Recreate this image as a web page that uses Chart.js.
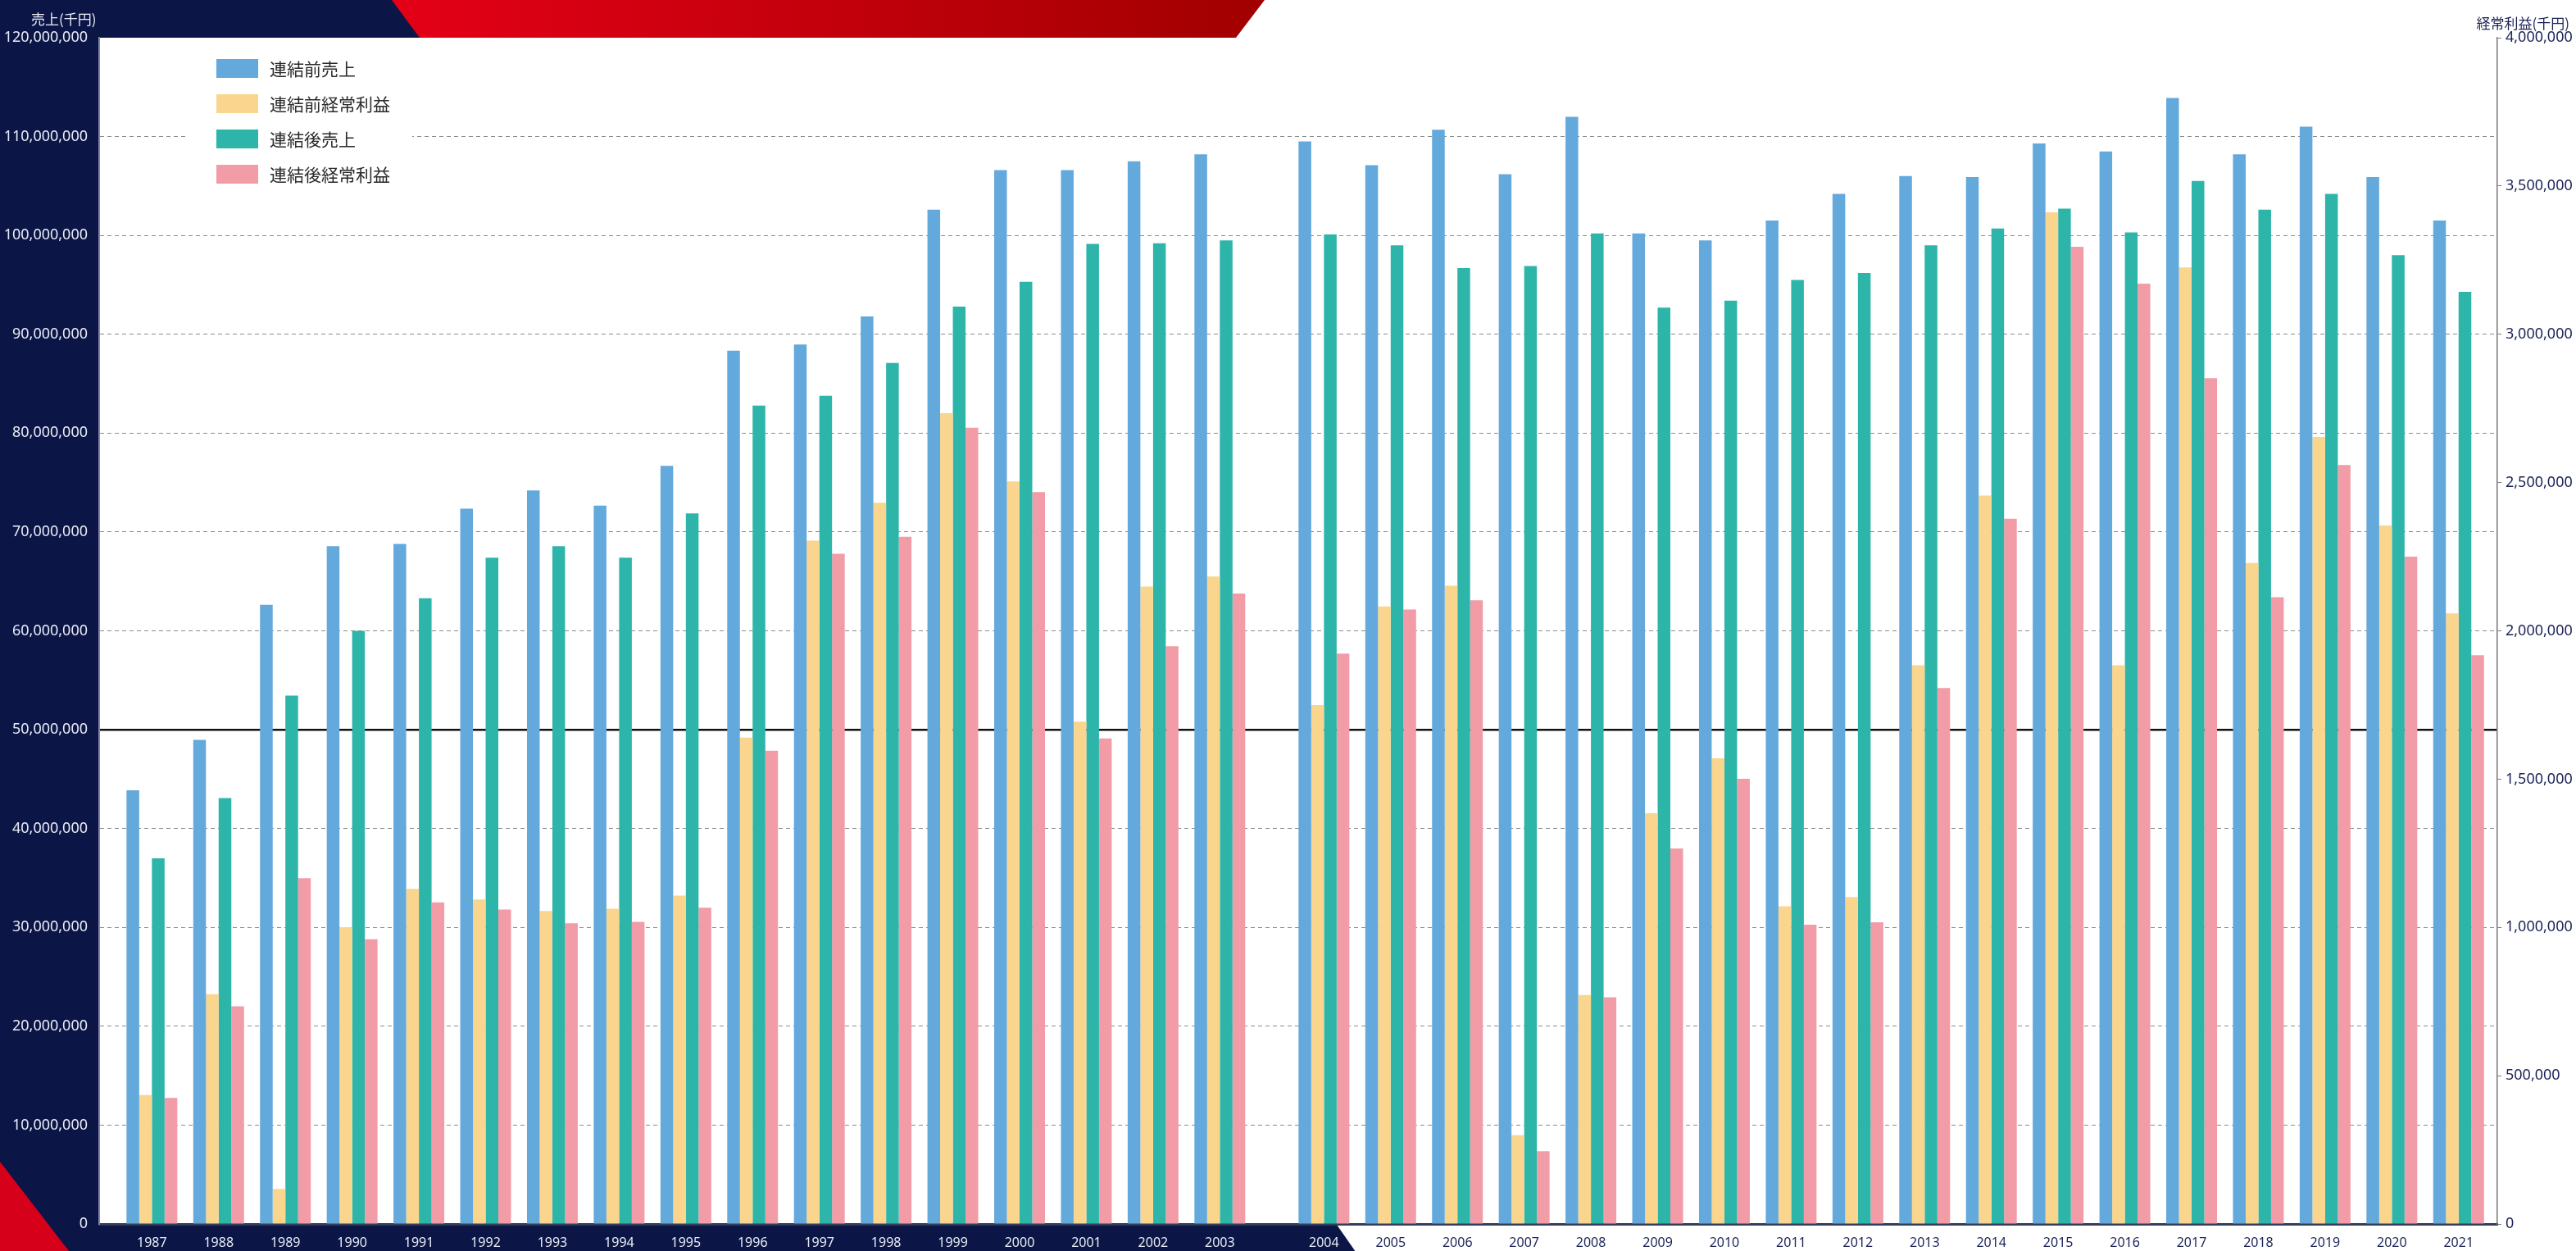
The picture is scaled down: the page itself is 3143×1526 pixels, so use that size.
<!DOCTYPE html>
<html lang="ja">
<head>
<meta charset="utf-8">
<title>売上・経常利益の推移</title>
<script src="https://cdn.jsdelivr.net/npm/chart.js@4/dist/chart.umd.min.js"></script>
<style>
  html, body { margin: 0; padding: 0; background: #fff; }
  #wrap { position: relative; width: 3143px; height: 1526px; }
  .axis-title { position: absolute; font-family: "Noto Sans CJK JP", "Noto Sans", sans-serif; font-size: 17px; line-height: 20px; white-space: nowrap; }
  #titleLeft { left: 38px; top: 13px; color: #e8ebf5; }
  #titleRight { right: 8px; top: 18px; color: #1c2357; }
</style>
</head>
<body>
<div id="wrap">
  <canvas id="salesChart"></canvas>
  <div class="axis-title" id="titleLeft">売上(千円)</div>
  <div class="axis-title" id="titleRight">経常利益(千円)</div>
</div>
<script>
// 年度
const years = [1987, 1988, 1989, 1990, 1991, 1992, 1993, 1994, 1995, 1996, 1997, 1998, 1999, 2000, 2001, 2002, 2003,
    2004, 2005, 2006, 2007, 2008, 2009, 2010, 2011, 2012, 2013, 2014, 2015, 2016, 2017, 2018, 2019, 2020, 2021];

// 連結前売上 (千円, 左軸)
const salesBefore = [43860000, 48960000, 62630000, 68570000, 68800000, 72360000, 74200000, 72660000, 76680000, 88340000,
    88960000, 91810000, 102600000, 106600000, 106600000, 107500000, 108200000, 109500000, 107100000, 110700000,
    106200000, 112000000, 100200000, 99500000, 101500000, 104200000, 106000000, 105900000, 109300000, 108500000,
    113900000, 108200000, 111000000, 105900000, 101500000];

// 連結前経常利益 (千円, 右軸)
const profitBefore = [435000, 775000, 118000, 1001000, 1130000, 1094000, 1055000, 1063000, 1107000, 1640000,
    2304000, 2432000, 2734000, 2504000, 1694000, 2149000, 2183000, 1750000, 2082000, 2152000,
    299000, 772000, 1385000, 1570000, 1071000, 1102000, 1884000, 2456000, 3411000, 1884000,
    3225000, 2229000, 2654000, 2355000, 2059000];

// 連結後売上 (千円, 左軸)
const salesAfter = [36990000, 43090000, 53440000, 60000000, 63300000, 67400000, 68570000, 67410000, 71890000, 82780000,
    83780000, 87100000, 92800000, 95300000, 99150000, 99200000, 99500000, 100100000, 99000000, 96700000,
    96900000, 100200000, 92700000, 93400000, 95500000, 96200000, 99000000, 100700000, 102700000, 100300000,
    105500000, 102600000, 104200000, 98000000, 94300000];

// 連結後経常利益 (千円, 右軸)
const profitAfter = [425000, 734000, 1166000, 960000, 1084000, 1060000, 1014000, 1019000, 1066000, 1596000,
    2260000, 2317000, 2685000, 2468000, 1637000, 1948000, 2126000, 1923000, 2072000, 2103000,
    245000, 764000, 1266000, 1501000, 1009000, 1017000, 1807000, 2378000, 3295000, 3171000,
    2852000, 2113000, 2559000, 2250000, 1918000];

const seriesLabels = ['連結前売上', '連結前経常利益', '連結後売上', '連結後経常利益'];

// 軸の範囲
const salesMax = 120000000;
const salesStep = 10000000;
const profitMax = 4000000;
const profitStep = 500000;
const salesMark = 50000000; // 太線

const NAVY = '#0b1646';

// 2003年と2004年の間に少し隙間がある
const gapAfterYear = 2003;
const gapSize = 0.56;
function xPos(year) {
    return year > gapAfterYear ? year + gapSize : year;
}

function toPoints(values) {
    return values.map((v, i) => ({ x: xPos(years[i]), y: v }));
}

function fmt(v) {
    return Number(v).toLocaleString('en-US');
}

// 背景 (紺色の枠と赤い帯)
const backdrop = {
    id: 'backdrop',
    beforeDraw(chart) {
        const { ctx, width, height, chartArea } = chart;
        const top = chartArea.top;
        const bottom = chartArea.bottom;
        ctx.save();
        ctx.fillStyle = '#ffffff';
        ctx.fillRect(0, 0, width, height);

        ctx.fillStyle = NAVY;
        ctx.fillRect(0, 0, chartArea.left, height);
        ctx.beginPath();
        ctx.moveTo(0, 0);
        ctx.lineTo(480, 0);
        ctx.lineTo(514, top);
        ctx.lineTo(0, top);
        ctx.closePath();
        ctx.fill();

        // 下の帯は2004年のラベルの後ろまで
        const edge = chart.scales.x.getPixelForValue(xPos(2004)) + 15;
        ctx.beginPath();
        ctx.moveTo(0, bottom);
        ctx.lineTo(edge, bottom);
        ctx.lineTo(edge + 23, height);
        ctx.lineTo(0, height);
        ctx.closePath();
        ctx.fill();

        const grad = ctx.createLinearGradient(480, 0, 1543, 0);
        grad.addColorStop(0, '#e40017');
        grad.addColorStop(1, '#a10000');
        ctx.fillStyle = grad;
        ctx.beginPath();
        ctx.moveTo(478, 0);
        ctx.lineTo(1543, 0);
        ctx.lineTo(1508, top);
        ctx.lineTo(512, top);
        ctx.closePath();
        ctx.fill();

        ctx.fillStyle = '#d6001b';
        ctx.beginPath();
        ctx.moveTo(0, 1417);
        ctx.lineTo(84, height);
        ctx.lineTo(0, height);
        ctx.closePath();
        ctx.fill();
        ctx.restore();
    }
};

// 凡例 (グラフの左上, 白地)
const plotLegend = {
    id: 'plotLegend',
    afterDatasetsDraw(chart) {
        const { ctx } = chart;
        ctx.save();
        ctx.fillStyle = '#ffffff';
        ctx.fillRect(227, 58, 276, 178);
        ctx.font = '21px "Noto Sans CJK JP", "Noto Sans", sans-serif';
        ctx.textBaseline = 'middle';
        chart.data.datasets.forEach((ds, i) => {
            const y = 72 + i * 43;
            ctx.fillStyle = ds.backgroundColor;
            ctx.fillRect(264, y, 51, 23);
            ctx.fillStyle = '#2a2a2a';
            ctx.fillText(ds.label, 329, y + 12);
        });
        ctx.restore();
    }
};

const ctx = document.getElementById('salesChart').getContext('2d');
Chart.defaults.font.family = '"Noto Sans", "Noto Sans CJK JP", sans-serif';

const salesChart = new Chart(ctx, {
    type: 'bar',
    data: {
        datasets: [{
            label: seriesLabels[0],
            data: toPoints(salesBefore),
            backgroundColor: '#64a9dc',
            yAxisID: 'y'
        }, {
            label: seriesLabels[1],
            data: toPoints(profitBefore),
            backgroundColor: '#fad58d',
            yAxisID: 'y1'
        }, {
            label: seriesLabels[2],
            data: toPoints(salesAfter),
            backgroundColor: '#2eb5aa',
            yAxisID: 'y'
        }, {
            label: seriesLabels[3],
            data: toPoints(profitAfter),
            backgroundColor: '#f19ca7',
            yAxisID: 'y1'
        }]
    },
    options: {
        responsive: true,
        maintainAspectRatio: false,
        animation: false,
        categoryPercentage: 0.761,
        barPercentage: 1.0,
        layout: {
            padding: { top: 46, left: 0, right: 0, bottom: 0 }
        },
        plugins: {
            legend: { display: false },
            tooltip: { enabled: false }
        },
        scales: {
            x: {
                type: 'linear',
                min: 1986.21,
                max: 2022.14,
                offset: false,
                afterBuildTicks: (scale) => {
                    scale.ticks = years.map(y => ({ value: xPos(y) }));
                },
                afterFit: (scale) => { scale.height = 33; },
                grid: { display: false, drawTicks: false },
                border: { display: true, color: '#353d5a', width: 3 },
                ticks: {
                    autoSkip: false,
                    maxRotation: 0,
                    padding: 14,
                    font: { size: 16 },
                    color: (c) => years[c.index] <= 2004 ? '#e8ebf5' : '#1c2357',
                    callback: (value, index) => String(years[index])
                }
            },
            y: {
                position: 'left',
                min: 0,
                max: salesMax,
                afterFit: (scale) => { scale.width = 121; },
                grid: {
                    drawTicks: false,
                    color: (c) => {
                        const v = c.tick ? c.tick.value : null;
                        if (v === salesMark) return '#111111';
                        if (v === 0 || v === salesMax) return 'rgba(0,0,0,0)';
                        return '#8c8c8c';
                    },
                    lineWidth: (c) => (c.tick && c.tick.value === salesMark) ? 2.5 : 1
                },
                border: {
                    display: true,
                    color: '#7d86a8',
                    width: 2,
                    dash: (c) => (!c.tick || c.tick.value === salesMark) ? [] : [5, 4]
                },
                ticks: {
                    stepSize: salesStep,
                    padding: 14,
                    font: { size: 18 },
                    color: '#e8ebf5',
                    callback: (v) => fmt(v)
                }
            },
            y1: {
                position: 'right',
                min: 0,
                max: profitMax,
                afterFit: (scale) => { scale.width = 96; },
                grid: {
                    drawOnChartArea: false,
                    drawTicks: true,
                    tickLength: 5,
                    tickColor: '#777777'
                },
                border: { display: true, color: '#777777', width: 1.5 },
                ticks: {
                    stepSize: profitStep,
                    padding: 5,
                    font: { size: 18 },
                    color: '#1c2357',
                    callback: (v) => fmt(v)
                }
            }
        }
    },
    plugins: [backdrop, plotLegend]
});
</script>
</body>
</html>
